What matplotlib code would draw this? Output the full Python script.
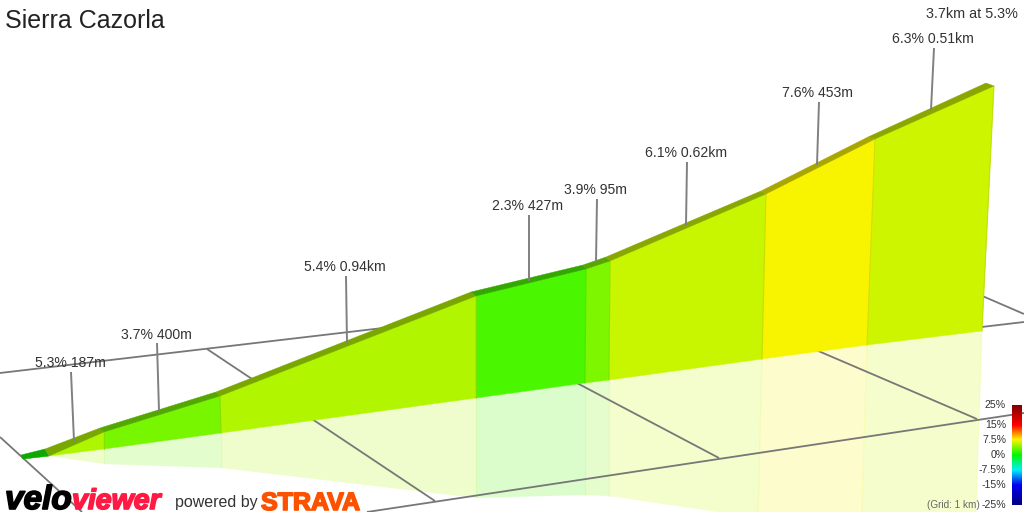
"""Sierra Cazorla climb profile, drawn in screen coordinates of the 3D view."""
import matplotlib
matplotlib.use("Agg")
import matplotlib.pyplot as plt
import matplotlib.patheffects as pe
from matplotlib.colors import LinearSegmentedColormap, Normalize
import numpy as np

plt.rcParams["font.family"] = ["Liberation Sans", "DejaVu Sans"]

# --- climb segments (first one is the short unlabelled lead-in) ---
SEGMENT_GRADES = [0.6, 5.3, 3.7, 5.4, 2.3, 3.9, 6.1, 7.6, 6.3]
SEGMENT_LABELS = ["5.3% 187m", "3.7% 400m", "5.4% 0.94km", "2.3% 427m", "3.9% 95m",
                  "6.1% 0.62km", "7.6% 453m", "6.3% 0.51km"]

# projected profile, one x/y per segment boundary
RIDGE_BACK_X = [21, 45, 100, 216, 471, 583, 606, 761, 868, 986]
RIDGE_BACK_Y = [455, 449, 428, 392, 292, 265, 257, 191, 137, 83]
RIDGE_FRONT_X = [23, 49, 104, 220, 476, 586, 610, 766, 875, 994]
RIDGE_FRONT_Y = [459, 456, 432, 396, 296, 269, 261, 194, 139, 86]
BASE_X = [23, 49, 104, 221, 476, 585, 609, 762, 867, 982]
BASE_Y = [459, 456, 449, 433, 398, 383, 380, 359, 345, 331]
MIRROR_X = [23, 49, 104, 221, 476, 585, 609, 758, 861, 974]
MIRROR_Y = [459, 456, 464, 468, 498, 495, 496, 518, 540, 570]

# leader lines and their label positions
LEADER_X_TOP = [71, 157, 346, 529, 597, 687, 819, 934]
LEADER_Y_TOP = [372, 343, 276, 215, 199, 162, 102, 48]
LEADER_X_END = [74, 159, 347, 529, 596, 686, 817, 931]
LEADER_Y_END = [441, 411, 343, 281, 262, 225, 165, 110]
LABEL_Y = [363, 335, 267, 206, 190, 153, 93, 39]

# ground grid, (x0, y0, x1, y1)
GRID_LINES = [
    (0, 373, 400, 326),
    (600, 372, 1024, 322),
    (367, 512, 1024, 413),
    (0, 437, 82, 512),
    (207, 349, 435, 501),
    (520, 353, 719, 458),
    (760, 326, 977, 419),
    (950, 282, 1024, 314),
]

# colour scale
LEGEND_VALUES = [25, 15, 7.5, 0, -7.5, -15, -25]
LEGEND_LABELS = ["25%", "15%", "7.5%", "0%", "-7.5%", "-15%", "-25%"]
SCALE_STOPS = [-25, -15, -7.5, 0, 7.8, 15, 25]
SCALE_COLOURS = ["#000080", "#0000f0", "#00f0f8", "#00f800", "#fff400", "#ff0000", "#800000"]

GRID_COLOUR = "#777777"
TEXT_COLOUR = "#333333"


def quad(ax, xs, ys, i, xs2, ys2, **kw):
    """Fill one segment between two polylines."""
    pts = [(xs[i], ys[i]), (xs[i + 1], ys[i + 1]), (xs2[i + 1], ys2[i + 1]), (xs2[i], ys2[i])]
    ax.fill(*zip(*pts), **kw)


def main():
    fig = plt.figure(figsize=(10.24, 5.12), dpi=100)
    ax = fig.add_axes([0, 0, 1, 1])

    norm = Normalize(-25, 25)
    cmap = LinearSegmentedColormap.from_list(
        "grade", [(norm(v), c) for v, c in zip(SCALE_STOPS, SCALE_COLOURS)], N=512)

    # reflection goes first so the grid shows through it
    for i, grade in enumerate(SEGMENT_GRADES):
        rgb = cmap(norm(grade))[:3]
        quad(ax, BASE_X, BASE_Y, i, MIRROR_X, MIRROR_Y, color=rgb, alpha=0.2, lw=0, zorder=1)
        ax.plot([BASE_X[i + 1], MIRROR_X[i + 1]], [BASE_Y[i + 1], MIRROR_Y[i + 1]],
                color=rgb, lw=0.8, alpha=0.12, zorder=1.5)
    for x0, y0, x1, y1 in GRID_LINES:
        ax.plot([x0, x1], [y0, y1], color=GRID_COLOUR, lw=1.3, zorder=2, solid_capstyle="butt")

    # the wall and its darker top strip
    for i, grade in enumerate(SEGMENT_GRADES):
        rgb = np.array(cmap(norm(grade))[:3])
        quad(ax, RIDGE_FRONT_X, RIDGE_FRONT_Y, i, BASE_X, BASE_Y, color=rgb, lw=0.3, zorder=3)
        quad(ax, RIDGE_BACK_X, RIDGE_BACK_Y, i, RIDGE_FRONT_X, RIDGE_FRONT_Y,
             color=rgb * 0.68, lw=0.3, zorder=4)
        # seam at the right end of each panel
        ax.plot([RIDGE_FRONT_X[i + 1], BASE_X[i + 1]], [RIDGE_FRONT_Y[i + 1], BASE_Y[i + 1]],
                color=rgb * 0.85, lw=0.8, alpha=0.6, zorder=3.5)

    # segment labels
    for i, text in enumerate(SEGMENT_LABELS):
        ax.plot([LEADER_X_TOP[i], LEADER_X_END[i]], [LEADER_Y_TOP[i], LEADER_Y_END[i]],
                color="#808080", lw=1.4, zorder=5, solid_capstyle="butt")
        ax.text(LEADER_X_TOP[i] - 1, LABEL_Y[i], text, ha="center", va="center", fontsize=10.1,
                color=TEXT_COLOUR, zorder=6)

    ax.text(5, 21, "Sierra Cazorla", ha="left", va="center", fontsize=18, color="#222222")
    ax.text(1018, 14, "3.7km at 5.3%", ha="right", va="center", fontsize=10.4, color=TEXT_COLOUR)

    # colour bar
    values = np.linspace(25, -25, 200).reshape(-1, 1)
    ax.imshow(values, cmap=cmap, norm=norm, extent=(1012, 1022, 505, 405), aspect="auto",
              interpolation="bilinear", zorder=6)
    for v, text in zip(LEGEND_VALUES, LEGEND_LABELS):
        ax.text(1006, 455 - 2 * v, text, ha="right", va="center", fontsize=7.6,
                color=TEXT_COLOUR, zorder=7)
    ax.text(980, 505, "(Grid: 1 km)", ha="right", va="center", fontsize=7.2, color="#666666",
            zorder=7)

    # logos as text
    thick = [pe.withStroke(linewidth=1.2, foreground="#000000")]
    ax.text(5, 509, "velo", ha="left", va="baseline", fontsize=24, fontweight="bold",
            fontstyle="italic", color="#000000", path_effects=thick, zorder=7)
    thick = [pe.withStroke(linewidth=1.2, foreground="#ff1a44")]
    ax.text(72, 509, "viewer", ha="left", va="baseline", fontsize=20.5, fontweight="bold",
            fontstyle="italic", color="#ff1a44", path_effects=thick, zorder=7)
    ax.text(175, 507, "powered by", ha="left", va="baseline", fontsize=11.5, color=TEXT_COLOUR,
            zorder=7)
    thick = [pe.withStroke(linewidth=1.2, foreground="#fc5200")]
    ax.text(261, 510, "STRAVA", ha="left", va="baseline", fontsize=18, fontweight="bold",
            color="#fc5200", path_effects=thick, zorder=7)

    ax.set_xlim(0, 1024)
    ax.set_ylim(512, 0)
    ax.axis("off")
    fig.savefig("out.png", dpi=100)
    plt.close(fig)


if __name__ == "__main__":
    main()
